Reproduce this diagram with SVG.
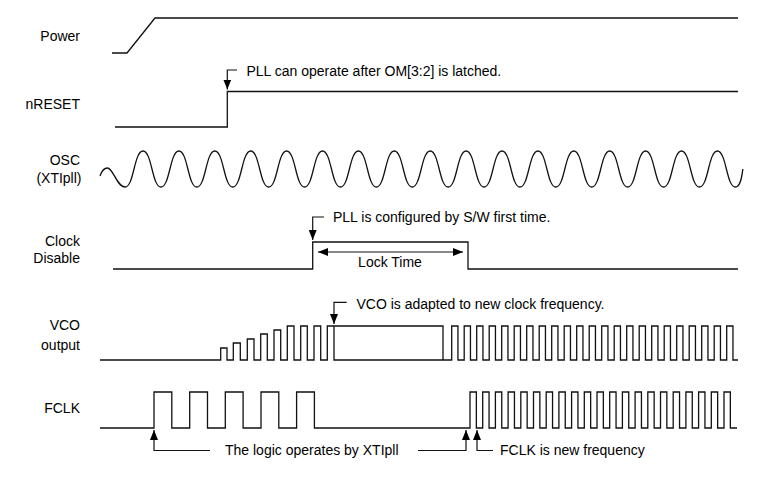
<svg xmlns="http://www.w3.org/2000/svg" width="764" height="484" viewBox="0 0 764 484">
<style>
.sig{fill:none;stroke:#111;stroke-width:1.3;stroke-linejoin:miter}
.con{fill:none;stroke:#111;stroke-width:1.2}
.lbl{font-family:"Liberation Sans",Arial,sans-serif;font-size:14px;fill:#000;text-anchor:end}
.txt{font-family:"Liberation Sans",Arial,sans-serif;font-size:14px;fill:#000}
</style>
<defs>
<marker id="ah" viewBox="0 0 10 8" refX="10" refY="4" markerWidth="10" markerHeight="8" markerUnits="userSpaceOnUse" orient="auto-start-reverse">
<path d="M0,0 L10,4 L0,8 z" fill="#000"/>
</marker>
</defs>
<rect width="764" height="484" fill="#fff"/>

<g id="power">
<text class="lbl" x="80" y="41">Power</text>
<path class="sig" d="M112,53 H127 L155,18 H738"/>
</g>

<g id="nreset">
<text class="lbl" x="80" y="109">nRESET</text>
<path class="sig" d="M115,127 H227.3 V91.5 H738"/>
</g>

<g id="osc">
<text class="lbl" x="80" y="165">OSC</text>
<text class="lbl" x="81.5" y="183">(XTIpll)</text>
<path class="sig" d="M100,176 C102,170 104.5,168 107.5,168 C113,168 117,187 125.05,187 c9,0 8.95,-36 17.95,-36 s8.95,36 17.95,36 s8.95,-36 17.95,-36 s8.95,36 17.95,36 s8.95,-36 17.95,-36 s8.95,36 17.95,36 s8.95,-36 17.95,-36 s8.95,36 17.95,36 s8.95,-36 17.95,-36 s8.95,36 17.95,36 s8.95,-36 17.95,-36 s8.95,36 17.95,36 s8.95,-36 17.95,-36 s8.95,36 17.95,36 s8.95,-36 17.95,-36 s8.95,36 17.95,36 s8.95,-36 17.95,-36 s8.95,36 17.95,36 s8.95,-36 17.95,-36 s8.95,36 17.95,36 s8.95,-36 17.95,-36 s8.95,36 17.95,36 s8.95,-36 17.95,-36 s8.95,36 17.95,36 s8.95,-36 17.95,-36 s8.95,36 17.95,36 s8.95,-36 17.95,-36 s8.95,36 17.95,36 s8.95,-36 17.95,-36 s8.95,36 17.95,36 s8.95,-36 17.95,-36 s8.95,36 17.95,36 s8.95,-36 17.95,-36 s8.95,36 17.95,36 c5,0 6.5,-10 7.5,-18"/>
</g>

<g id="clock-disable">
<text class="lbl" x="80" y="246">Clock</text>
<text class="lbl" x="80" y="263">Disable</text>
<path class="sig" d="M113,269 H312.7 V242 H468 V269 H738"/>
<text class="txt" x="390" y="267" text-anchor="middle">Lock Time</text>
</g>

<g id="vco">
<text class="lbl" x="80" y="330">VCO</text>
<text class="lbl" x="80" y="350">output</text>
<path class="sig" d="M100,360 H220.7 V348 H227 V360 H233.3 V343 H240.3 V360 H247.3 V339 H254 V360 H260.7 V334 H267.3 V360 H274 V330 H280.7 V360 H287.3 V326 H294 V360 H300.7 V326 H307.3 V360 H314 V326 H320.7 V360 H327.3 V326 H443 V360 H451.7 v-34h6.25v34h6.25 v-34h6.25v34h6.25 v-34h6.25v34h6.25 v-34h6.25v34h6.25 v-34h6.25v34h6.25 v-34h6.25v34h6.25 v-34h6.25v34h6.25 v-34h6.25v34h6.25 v-34h6.25v34h6.25 v-34h6.25v34h6.25 v-34h6.25v34h6.25 v-34h6.25v34h6.25 v-34h6.25v34h6.25 v-34h6.25v34h6.25 v-34h6.25v34h6.25 v-34h6.25v34h6.25 v-34h6.25v34h6.25 v-34h6.25v34h6.25 v-34h6.25v34h6.25 v-34h6.25v34h6.25 v-34h6.25v34h6.25 v-34h6.25v34h6.25 v-34h6.25v34 H738 M334,326 V360 H443"/>
</g>

<g id="fclk">
<text class="lbl" x="80" y="413">FCLK</text>
<path class="sig" d="M100,428 H154 V392 H171.8 V428 H189.7 V392 H207.5 V428 H225.3 V392 H243.1 V428 H261 V392 H278.8 V428 H296.6 V392 H314.4 V428 H470 v-36h6.35v36h6.35 v-36h6.35v36h6.35 v-36h6.35v36h6.35 v-36h6.35v36h6.35 v-36h6.35v36h6.35 v-36h6.35v36h6.35 v-36h6.35v36h6.35 v-36h6.35v36h6.35 v-36h6.35v36h6.35 v-36h6.35v36h6.35 v-36h6.35v36h6.35 v-36h6.35v36h6.35 v-36h6.35v36h6.35 v-36h6.35v36h6.35 v-36h6.35v36h6.35 v-36h6.35v36h6.35 v-36h6.35v36h6.35 v-36h6.35v36h6.35 v-36h6.35v36h6.35 v-36h6.35v36h6.35 v-36h6.35v36 H737"/>
</g>

<g id="annotations">
<text class="txt" x="246.5" y="75.5">PLL can operate after OM[3:2] is latched.</text>
<text class="txt" x="333" y="222">PLL is configured by S/W first time.</text>
<text class="txt" x="356.5" y="308.5">VCO is adapted to new clock frequency.</text>
<text class="txt" x="225" y="455">The logic operates by XTIpll</text>
<text class="txt" x="500" y="455">FCLK is new frequency</text>
</g>

<g id="connectors">
<path class="con" d="M237,70 H227.3 V89.5" marker-end="url(#ah)"/>
<path class="con" d="M324,217 H312.7 V240" marker-end="url(#ah)"/>
<path class="con" d="M346.7,302.3 H334 V324" marker-end="url(#ah)"/>
<path class="con" d="M318,252 H463" marker-start="url(#ah)" marker-end="url(#ah)"/>
<path class="con" d="M210,450.5 H154 V430" marker-end="url(#ah)"/>
<path class="con" d="M418,450.5 H466 V430" marker-end="url(#ah)"/>
<path class="con" d="M493,450.5 H477 V430" marker-end="url(#ah)"/>
</g>
</svg>
